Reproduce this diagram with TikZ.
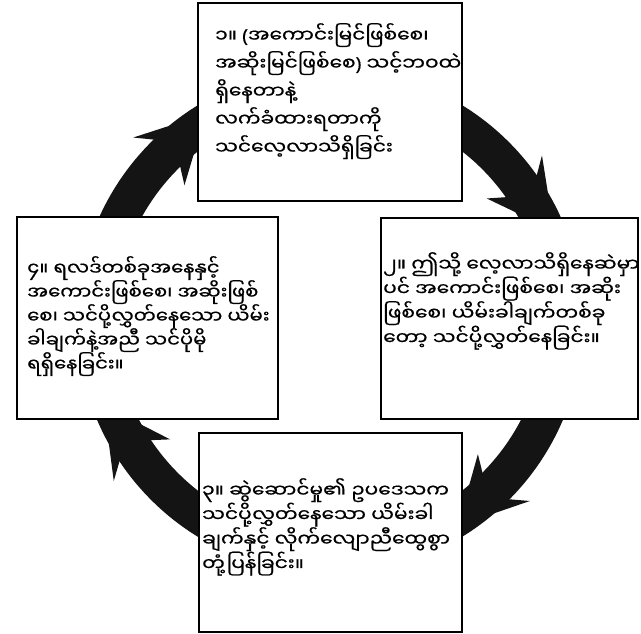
\documentclass[tikz,border=0pt]{standalone}
\usepackage{fontspec}
\newfontfamily\my[Script=Myanmar, FakeStretch=1.12, FakeBold=0.6]{Noto Sans Myanmar UI}
\newfontfamily\myn[Script=Myanmar, FakeStretch=1.09, FakeBold=0.6]{Noto Sans Myanmar UI}
\newfontfamily\lat[FakeStretch=1.05, FakeBold=0.6]{Noto Sans}
\newcommand\mylp{{\lat(}}
\newcommand\myrp{{\lat)}}
\begin{document}
\begin{tikzpicture}[x=1pt,y=-1pt,
  ring/.style={fill=black!92},
  box/.style={draw=black, line width=1.6pt, fill=white, inner sep=0pt},
  txt/.style={anchor=north west, align=left, inner sep=0pt, font=\my\fontsize{18}{24.5}\selectfont},
  txtl/.style={txt, font=\myn\fontsize{18}{24}\selectfont},
  txtb/.style={txt, font=\my\fontsize{18}{28}\selectfont},
]
\useasboundingbox (0,0) rectangle (641,634);
% ring
\begin{scope}[shift={(330,321)}]
  \fill[ring, even odd rule] (0,0) circle[radius=253pt] (0,0) circle[radius=215pt];
  \foreach \b in {226,325,45,146.5}{
    \pgfmathsetmacro\bt{\b-3}
    \pgfmathsetmacro\bf{\b+5}
    \fill[ring] (\b:252) -- (\bt:269) -- (\bf:252) -- cycle;
    \fill[ring] (\b:216) -- (\bt:199) -- (\bf:216) -- cycle;
  }
\end{scope}
% boxes
\node[box, minimum width=264pt, minimum height=198pt] (top) at (330,102) {};
\node[box, minimum width=261pt, minimum height=202pt] (left) at (147.5,318) {};
\node[box, minimum width=257pt, minimum height=201pt] (right) at (509.5,318.5) {};
\node[box, minimum width=263pt, minimum height=199pt] (bottom) at (330.5,532.5) {};
% texts
\node[txtb] (ttop) at (215,23) {၁။ \mylp အကောင်းမြင်ဖြစ်စေ၊\\အဆိုးမြင်ဖြစ်စေ\myrp\ သင့်ဘဝထဲ\\ရှိနေတာနဲ့\\လက်ခံထားရတာကို\\သင်လေ့လာသိရှိခြင်း};
\node[txt] (tright) at (383,252) {၂။ ဤသို့ လေ့လာသိရှိနေဆဲမှာ\\ပင် အကောင်းဖြစ်စေ၊ အဆိုး\\ဖြစ်စေ၊ ယိမ်းခါချက်တစ်ခု\\တော့ သင်ပို့လွှတ်နေခြင်း။};
\node[txt] (tbottom) at (202,478) {၃။ ဆွဲဆောင်မှု၏ ဥပဒေသက\\သင်ပို့လွှတ်နေသော ယိမ်းခါ\\ချက်နှင့် လိုက်လျောညီထွေစွာ\\တုံ့ပြန်ခြင်း။};
\node[txtl] (tleft) at (27,256) {၄။ ရလဒ်တစ်ခုအနေနှင့်\\အကောင်းဖြစ်စေ၊ အဆိုးဖြစ်\\စေ၊ သင်ပို့လွှတ်နေသော ယိမ်း\\ခါချက်နဲ့အညီ သင်ပိုမို\\ရရှိနေခြင်း။};
\end{tikzpicture}
\end{document}
